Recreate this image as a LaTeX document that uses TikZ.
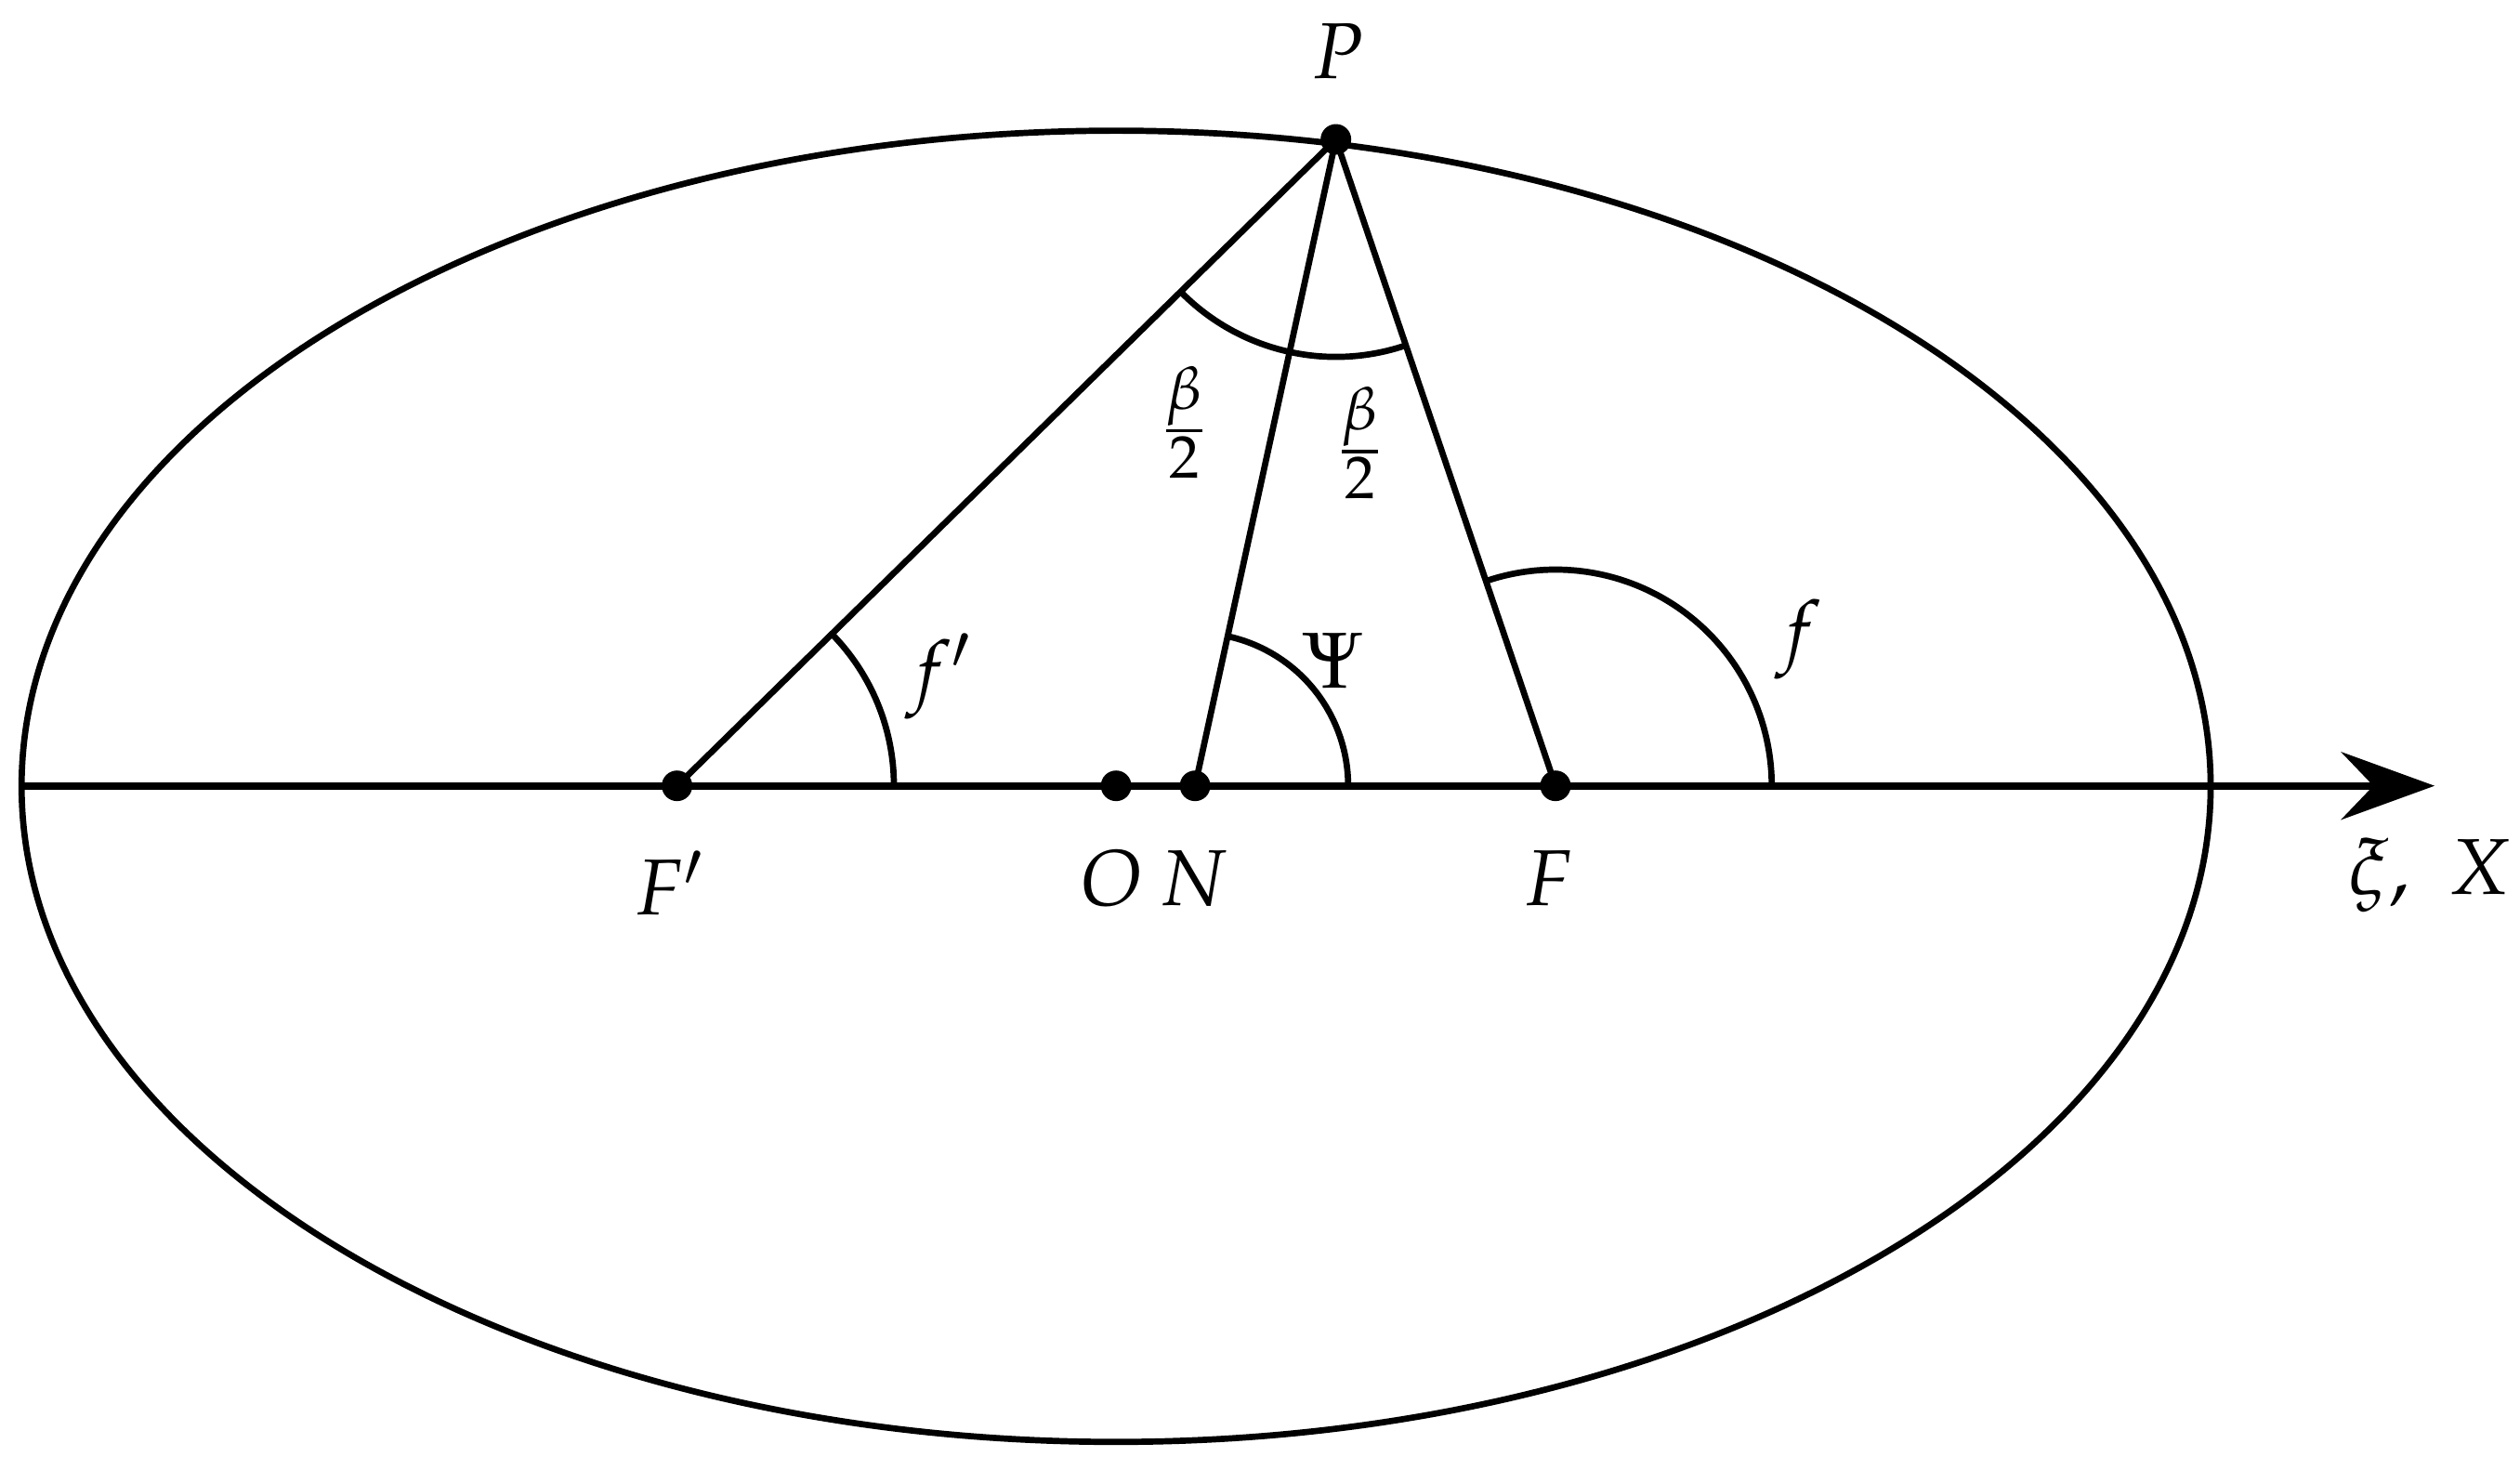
\documentclass[tikz,border=0pt]{standalone}
\usepackage{mathpazo}
\usetikzlibrary{arrows.meta}
\begin{document}
\begin{tikzpicture}[
  curve/.style={line width=1.1pt},
  axisline/.style={line width=1.3pt},
  dot/.style={circle,fill=black,inner sep=0pt,minimum size=0.19cm},
  lbl/.style={font=\fontsize{14}{16}\selectfont,inner sep=1pt}
]
\useasboundingbox (0,0) rectangle (15.64,-9.12);
% points
\coordinate (O0) at (6.927,-4.88);
\coordinate (L) at (0.134,-4.877);
\coordinate (R) at (15.11,-4.877);
\node[dot] (Fp) at (4.202,-4.877) {};
\node[dot] (O) at (6.927,-4.877) {};
\node[dot] (N) at (7.417,-4.877) {};
\node[dot] (F) at (9.654,-4.877) {};
% ellipse
\draw[curve] (O0) ellipse [x radius=6.793, y radius=4.069];
% axis
\draw[axisline,-{Stealth[length=0.58cm,width=0.42cm,inset=0.2cm]}] (L) -- (R);
\node[dot] (P) at (8.291,-0.865) {};
% lines from P
\draw[curve] (P.center) -- (Fp.center);
\draw[curve] (P.center) -- (N.center);
\draw[curve] (P.center) -- (F.center);
% angle arcs
\draw[curve] ([xshift=1.346cm]Fp.center) arc[start angle=0,end angle=44.45,radius=1.346];
\draw[curve] ([xshift=0.95cm]N.center) arc[start angle=0,end angle=77.71,radius=0.95];
\draw[curve] ([xshift=1.342cm]F.center) arc[start angle=0,end angle=108.76,radius=1.342];
\draw[curve] (P.center) ++(224.45:1.35) arc[start angle=224.45,end angle=288.76,radius=1.35];
% labels
\node[lbl] (lP) at (8.30,-0.32) {$P$};
\node[lbl] (lFp) at (4.16,-5.48) {$F'$};
\node[lbl] (lO) at (6.90,-5.45) {$O$};
\node[lbl] (lN) at (7.41,-5.45) {$N$};
\node[lbl] (lF) at (9.61,-5.45) {$F$};
\node[lbl] (lX) at (15.08,-5.43) {$\xi,\ X$};
\node[lbl] (lfp) at (5.83,-4.20) {$f'$};
\node[lbl] (lf) at (11.16,-3.97) {$f$};
\node[lbl] (lPsi) at (8.28,-4.10) {$\Psi$};
\node[lbl] (lb1) at (7.35,-2.62) {$\frac{\beta}{2}$};
\node[lbl] (lb2) at (8.44,-2.75) {$\frac{\beta}{2}$};
\end{tikzpicture}
\end{document}
